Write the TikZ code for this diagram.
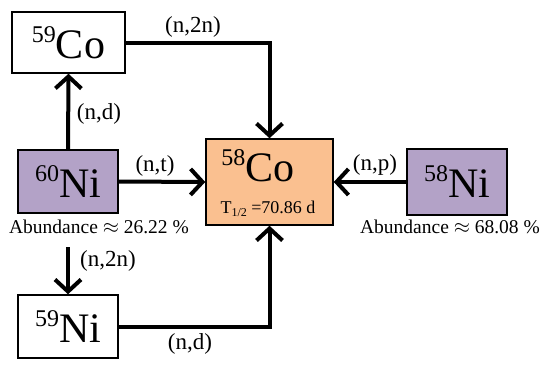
\documentclass[tikz,border=0pt]{standalone}
\usepackage{fontspec}
\setmainfont{Liberation Serif}
\usetikzlibrary{arrows.meta}
\definecolor{cobox}{HTML}{FAC090}
\definecolor{nibox}{HTML}{B3A2C7}
\newcommand\isotope[2]{\raisebox{16pt}{\fontsize{24}{24}\selectfont #1}#2}
\tikzset{
  isobox/.style={draw=black, line width=1.5pt, inner sep=0pt, font=\fontsize{42}{44}\selectfont},
  isotext/.style={inner sep=0pt, font=\fontsize{42}{44}\selectfont},
  flow/.style={line width=4pt, -{Straight Barb[length=12pt,width=26pt,line width=4pt]}},
  rlabel/.style={font=\fontsize{23}{25}\selectfont, inner sep=0pt},
  abund/.style={font=\fontsize{19.5}{22}\selectfont, inner sep=0pt}
}
\begin{document}
\begin{tikzpicture}[x=1pt,y=-1pt]
\useasboundingbox (0,0) rectangle (540,364);
% boxes
\node[isobox, minimum width=113pt, minimum height=61pt] (co59) at (68.5,42.5) {\isotope{59}{Co}};
\node[isobox, fill=nibox, minimum width=100pt, minimum height=63pt] (ni60) at (68,181.5) {\isotope{60}{Ni}};
\node[isobox, fill=cobox, minimum width=127pt, minimum height=86pt] (co58) at (269.5,182) {};
\node[isotext] (co58t) at (258,166) {\isotope{58}{Co}};
\node[font=\fontsize{18}{20}\selectfont, inner sep=0pt] (co58h) at (268,209) {T\raisebox{-3pt}{\fontsize{12}{12}\selectfont 1/2} =70.86 d};
\node[isobox, fill=nibox, minimum width=100pt, minimum height=66pt] (ni58) at (457,182) {\isotope{58}{Ni}};
\node[isobox, minimum width=100pt, minimum height=63pt] (ni59) at (68,326.5) {\isotope{59}{Ni}};
% abundances
\node[abund] (ab60) at (99,227) {Abundance $\approx$ 26.22 \%};
\node[abund] (ab58) at (450,227) {Abundance $\approx$ 68.08 \%};
\coordinate (start59) at (68,247);
% arrows
\draw[flow] (co59.east) -| (co58.north);
\draw[flow] (ni60.north) -- (co59.south);
\draw[flow] (ni60.east) -- (co58.west);
\draw[flow] (ni58.west) -- (co58.east);
\draw[flow] (start59) -- (ni59.north);
\draw[flow] (ni59.east) -| (co58.south);
% reaction labels
\node[rlabel] (l1) at (193,27) {(n,2n)};
\node[rlabel] (l2) at (99,114) {(n,d)};
\node[rlabel] (l3) at (155,166) {(n,t)};
\node[rlabel] (l4) at (375,165) {(n,p)};
\node[rlabel] (l5) at (108,261) {(n,2n)};
\node[rlabel] (l6) at (190,344) {(n,d)};
\end{tikzpicture}
\end{document}
